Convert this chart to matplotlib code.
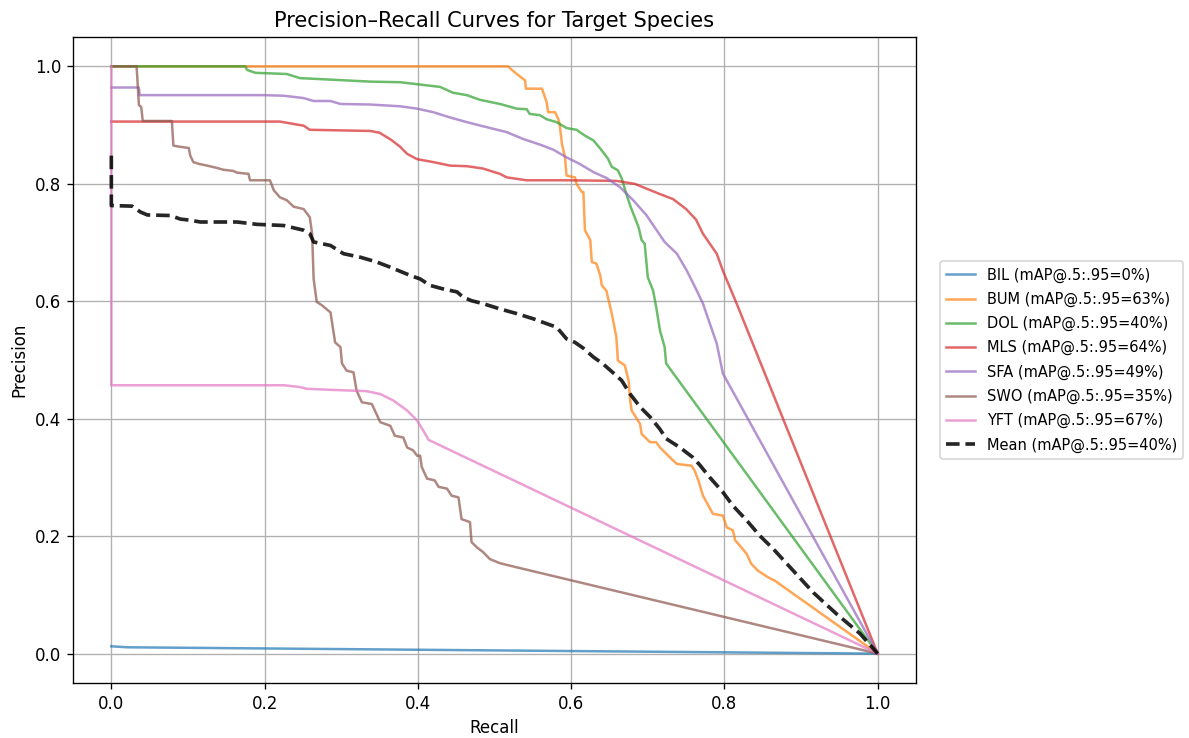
import matplotlib
matplotlib.use("Agg")
import matplotlib.pyplot as plt

# ---- data ----
bil_r = [0.0, 0.021, 1.0]
bil_p = [0.0125, 0.0108, 0.0]

bum_r = [0.0, 0.518, 0.520, 0.529, 0.540, 0.541, 0.562, 0.568, 0.570, 0.579, 0.583, 0.585, 0.588, 0.592,
         0.594, 0.605, 0.607, 0.614, 0.616, 0.618, 0.625, 0.627, 0.633, 0.638, 0.640, 0.646, 0.653, 0.659,
         0.661, 0.670, 0.675, 0.677, 0.679, 0.690, 0.692, 0.703, 0.711, 0.716, 0.729, 0.738, 0.757, 0.761,
         0.766, 0.772, 0.785, 0.798, 0.803, 0.811, 0.814, 0.822, 0.829, 0.835, 0.844, 0.857, 0.866, 1.0]
bum_p = [1.0, 1.0, 0.997, 0.987, 0.976, 0.962, 0.962, 0.939, 0.922, 0.922, 0.911, 0.902, 0.868, 0.845,
         0.814, 0.811, 0.800, 0.786, 0.786, 0.721, 0.704, 0.667, 0.664, 0.644, 0.627, 0.618, 0.579, 0.539,
         0.499, 0.491, 0.465, 0.431, 0.414, 0.391, 0.374, 0.360, 0.360, 0.351, 0.334, 0.323, 0.320, 0.312,
         0.295, 0.269, 0.238, 0.235, 0.215, 0.210, 0.193, 0.181, 0.170, 0.153, 0.141, 0.130, 0.124, 0.0]

dol_r = [0.0, 0.175, 0.177, 0.188, 0.229, 0.246, 0.277, 0.338, 0.377, 0.403, 0.429, 0.446, 0.464, 0.481,
         0.507, 0.529, 0.542, 0.546, 0.559, 0.568, 0.581, 0.594, 0.607, 0.618, 0.629, 0.638, 0.648, 0.653,
         0.661, 0.666, 0.672, 0.677, 0.683, 0.688, 0.692, 0.696, 0.700, 0.707, 0.711, 0.716, 0.722, 0.724, 1.0]
dol_p = [1.0, 1.0, 0.994, 0.989, 0.987, 0.980, 0.978, 0.974, 0.973, 0.969, 0.965, 0.955, 0.951, 0.943,
         0.936, 0.928, 0.927, 0.919, 0.917, 0.910, 0.905, 0.895, 0.892, 0.882, 0.874, 0.860, 0.843, 0.829,
         0.823, 0.809, 0.783, 0.763, 0.743, 0.726, 0.704, 0.698, 0.641, 0.618, 0.590, 0.550, 0.522, 0.494, 0.0]

mls_r = [0.0, 0.220, 0.233, 0.251, 0.259, 0.338, 0.350, 0.365, 0.377, 0.386, 0.399, 0.420, 0.442, 0.464,
         0.485, 0.507, 0.516, 0.542, 0.594, 0.659, 0.683, 0.698, 0.715, 0.733, 0.750, 0.763, 0.772, 0.790,
         0.798, 0.807, 0.816, 1.0]
mls_p = [0.906, 0.906, 0.903, 0.899, 0.892, 0.890, 0.887, 0.875, 0.863, 0.851, 0.842, 0.837, 0.831, 0.830,
         0.826, 0.817, 0.811, 0.806, 0.806, 0.805, 0.800, 0.792, 0.783, 0.774, 0.757, 0.739, 0.715, 0.681,
         0.652, 0.624, 0.596, 0.0]

sfa_r = [0.0, 0.036, 0.037, 0.198, 0.225, 0.251, 0.264, 0.286, 0.299, 0.338, 0.377, 0.399, 0.420, 0.442,
         0.464, 0.485, 0.516, 0.538, 0.559, 0.577, 0.594, 0.611, 0.629, 0.646, 0.664, 0.681, 0.698, 0.722,
         0.738, 0.751, 0.764, 0.772, 0.781, 0.790, 0.798, 1.0]
sfa_p = [0.964, 0.964, 0.951, 0.951, 0.950, 0.946, 0.941, 0.941, 0.936, 0.935, 0.932, 0.928, 0.922, 0.913,
         0.905, 0.898, 0.888, 0.876, 0.867, 0.858, 0.845, 0.834, 0.820, 0.810, 0.794, 0.772, 0.747, 0.701,
         0.681, 0.652, 0.618, 0.596, 0.562, 0.528, 0.477, 0.0]

swo_r = [0.0, 0.033, 0.036, 0.039, 0.041, 0.079, 0.081, 0.090, 0.101, 0.103, 0.107, 0.114, 0.125, 0.138,
         0.146, 0.159, 0.164, 0.179, 0.181, 0.207, 0.212, 0.220, 0.229, 0.238, 0.251, 0.259, 0.262, 0.264,
         0.268, 0.275, 0.286, 0.292, 0.299, 0.301, 0.307, 0.316, 0.320, 0.327, 0.340, 0.346, 0.351, 0.364,
         0.370, 0.381, 0.386, 0.394, 0.399, 0.403, 0.405, 0.412, 0.422, 0.427, 0.438, 0.444, 0.453, 0.457,
         0.468, 0.470, 0.477, 0.485, 0.494, 0.507, 0.529, 1.0]
swo_p = [1.0, 1.0, 0.934, 0.931, 0.907, 0.907, 0.865, 0.863, 0.861, 0.848, 0.837, 0.834, 0.831, 0.827,
         0.824, 0.822, 0.819, 0.817, 0.806, 0.806, 0.789, 0.777, 0.772, 0.761, 0.757, 0.743, 0.715, 0.638,
         0.599, 0.593, 0.581, 0.530, 0.522, 0.494, 0.482, 0.479, 0.448, 0.428, 0.425, 0.408, 0.394, 0.388,
         0.371, 0.368, 0.351, 0.346, 0.337, 0.337, 0.318, 0.298, 0.295, 0.284, 0.281, 0.269, 0.266, 0.229,
         0.224, 0.190, 0.181, 0.173, 0.161, 0.154, 0.147, 0.0]

yft_r = [0.0, 0.0, 0.200, 0.225, 0.246, 0.255, 0.290, 0.333, 0.351, 0.368, 0.386, 0.399, 0.407, 0.414, 1.0]
yft_p = [1.0, 0.457, 0.457, 0.457, 0.454, 0.451, 0.449, 0.447, 0.442, 0.431, 0.414, 0.397, 0.380, 0.364, 0.0]

mean_r = [0.0, 0.0, 0.027, 0.038, 0.047, 0.077, 0.090, 0.103, 0.116, 0.164, 0.190, 0.225, 0.251, 0.259,
          0.264, 0.286, 0.303, 0.325, 0.346, 0.364, 0.390, 0.403, 0.416, 0.433, 0.451, 0.459, 0.470, 0.485,
          0.507, 0.529, 0.551, 0.572, 0.581, 0.594, 0.605, 0.616, 0.629, 0.641, 0.655, 0.666, 0.677, 0.690,
          0.703, 0.716, 0.724, 0.742, 0.759, 0.768, 0.781, 0.798, 0.811, 0.829, 0.846, 0.864, 0.890, 0.916,
          0.946, 0.977, 1.0]
mean_p = [0.848, 0.763, 0.762, 0.752, 0.747, 0.746, 0.740, 0.738, 0.735, 0.735, 0.731, 0.729, 0.721, 0.715,
          0.701, 0.695, 0.681, 0.675, 0.667, 0.658, 0.644, 0.638, 0.627, 0.621, 0.616, 0.607, 0.601, 0.596,
          0.587, 0.579, 0.570, 0.560, 0.556, 0.536, 0.530, 0.520, 0.505, 0.494, 0.478, 0.465, 0.442, 0.420,
          0.403, 0.382, 0.366, 0.351, 0.334, 0.321, 0.300, 0.275, 0.252, 0.227, 0.201, 0.178, 0.141, 0.104,
          0.068, 0.034, 0.0]

species = ["BIL", "BUM", "DOL", "MLS", "SFA", "SWO", "YFT"]
map_vals = [0, 63, 40, 64, 49, 35, 67]
mean_map = 40
curves_r = [bil_r, bum_r, dol_r, mls_r, sfa_r, swo_r, yft_r]
curves_p = [bil_p, bum_p, dol_p, mls_p, sfa_p, swo_p, yft_p]

DPI = 120
fig = plt.figure(figsize=(1189 / DPI, 738 / DPI), dpi=DPI)
ax = fig.add_axes([73 / 1189, 1 - 683 / 738, (916 - 73) / 1189, (683 - 37) / 738])

for name, m, r, p in zip(species, map_vals, curves_r, curves_p):
    ax.plot(r, p, lw=1.5, alpha=0.7, label=f"{name} (mAP@.5:.95={m}%)")
ax.plot(mean_r, mean_p, "k--", lw=2.2, alpha=0.85, label=f"Mean (mAP@.5:.95={mean_map}%)")

ax.set_xlim(-0.05, 1.05)
ax.set_ylim(-0.05, 1.05)
ax.set_xlabel("Recall", fontsize=10)
ax.set_ylabel("Precision", fontsize=10)
ax.set_title("Precision\u2013Recall Curves for Target Species", fontsize=12.6)
ax.grid(True)
ax.legend(loc="center left", bbox_to_anchor=(1.02, 0.5), fontsize=8.8, labelspacing=0.62)

fig.savefig("out.png", dpi=DPI)
